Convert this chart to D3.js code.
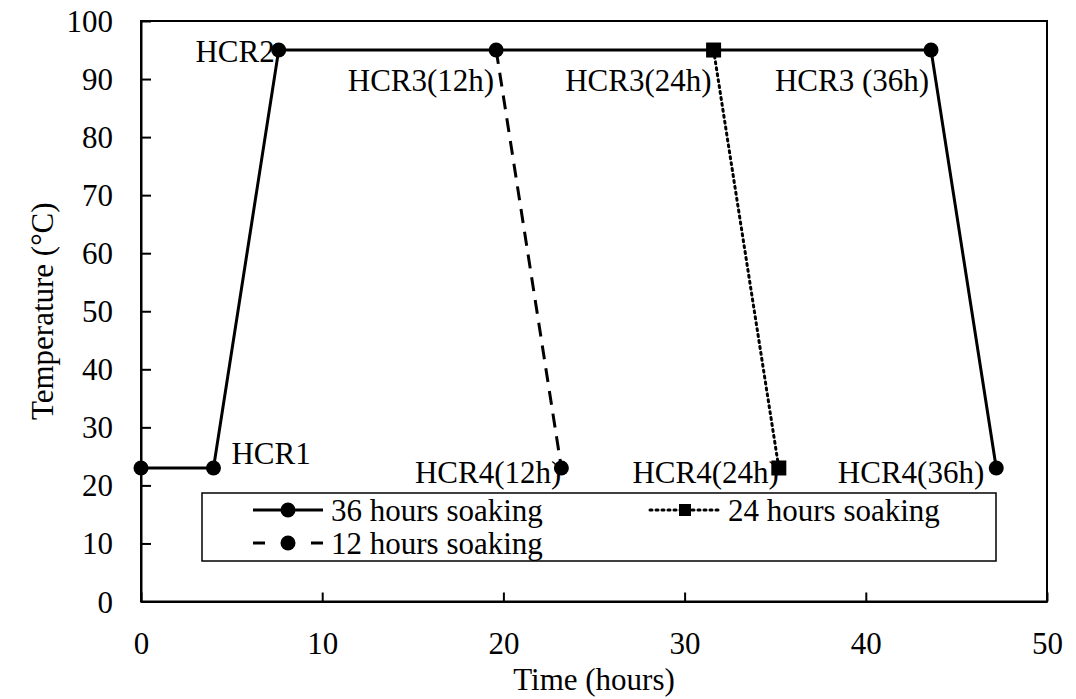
<!DOCTYPE html>
<html>
<head>
<meta charset="utf-8">
<script src="https://cdn.jsdelivr.net/npm/d3@7"></script>
<style>
body { margin:0; background:#fff; }
text { font-family: "Liberation Serif", "Times New Roman", serif; fill:#000; }
</style>
</head>
<body>
<svg id="chart" width="1076" height="699"></svg>
<script>
// data
var time36 = [0, 4, 7.6, 43.6, 47.2]
var temp36 = [23, 23, 95, 95, 23]
var time24 = [31.6, 35.2]
var temp24 = [95, 23]
var time12 = [19.6, 23.2]
var temp12 = [95, 23]

var xTicks = [0, 10, 20, 30, 40, 50]
var yTicks = [0, 10, 20, 30, 40, 50, 60, 70, 80, 90, 100]

var labelText = ['HCR1', 'HCR2', 'HCR3(12h)', 'HCR3(24h)', 'HCR3 (36h)', 'HCR4(12h)', 'HCR4(24h)', 'HCR4(36h)']
var labelX = [4, 7.6, 19.6, 31.6, 43.6, 23.2, 35.2, 47.2]
var labelY = [23, 95, 95, 95, 95, 23, 23, 23]

var svg = d3.select('#chart')
var m = {left:141, right:1047, top:21, bottom:601.5}
var fs = 31

var x = d3.scaleLinear().domain([0, 50]).range([m.left, m.right])
var y = d3.scaleLinear().domain([0, 100]).range([m.bottom, m.top])

// frame
svg.append('rect')
	.attr('x', m.left).attr('y', m.top)
	.attr('width', m.right - m.left).attr('height', m.bottom - m.top)
	.attr('fill', 'none').attr('stroke', '#000').attr('stroke-width', 2)

// axes, ticks inside
var xAxis = d3.axisBottom(x).tickValues(xTicks).tickSizeInner(-9).tickSizeOuter(0).tickPadding(30)
var gx = svg.append('g').attr('transform', 'translate(0,' + m.bottom + ')').call(xAxis)
var yAxis = d3.axisLeft(y).tickValues(yTicks).tickSizeInner(-10).tickSizeOuter(0).tickPadding(28)
var gy = svg.append('g').attr('transform', 'translate(' + m.left + ',0)').call(yAxis)
;[gx, gy].forEach(function(g){
	g.select('.domain').attr('stroke', '#000').attr('stroke-width', 2)
	g.selectAll('.tick line').attr('stroke', '#000').attr('stroke-width', 2)
	g.selectAll('.tick text').style('font-size', fs + 'px').style('font-family', '"Liberation Serif", "Times New Roman", serif').attr('fill', '#000')
})
gx.selectAll('.tick text').attr('dy', '0.71em')
gy.selectAll('.tick text').attr('dy', '0.34em')

svg.append('text').attr('x', (m.left + m.right) / 2).attr('y', 690)
	.attr('text-anchor', 'middle').style('font-size', fs + 'px').text('Time (hours)')
svg.append('text').attr('transform', 'translate(53,' + ((m.top + m.bottom) / 2) + ') rotate(-90)')
	.attr('text-anchor', 'middle').style('font-size', fs + 'px').text('Temperature (°C)')

var line = d3.line().x(function(d){ return x(d[0]) }).y(function(d){ return y(d[1]) })
var pts = function(t, v){ return t.map(function(d, i){ return [d, v[i]] }) }

var series = [
	{pts: pts(time12, temp12), dash: '14,9', legendDash: '12,46,12', cap: 'butt', shape: 'circle'},
	{pts: pts(time24, temp24), dash: '2,4', legendDash: '2,4', cap: 'round', shape: 'square'},
	{pts: pts(time36, temp36), dash: null, legendDash: null, cap: 'butt', shape: 'circle'}
]

// labels under markers
var lblDx = [18, -4, -2, -2, -2, 0, 0, -12]
var lblDy = [-4, 12, 41, 41, 41, 15, 15, 15]
var lblAnchor = ['start', 'end', 'end', 'end', 'end', 'end', 'end', 'end']
labelText.forEach(function(t, i){
	svg.append('text').attr('x', x(labelX[i]) + lblDx[i]).attr('y', y(labelY[i]) + lblDy[i])
		.attr('text-anchor', lblAnchor[i]).style('font-size', fs + 'px').text(t)
})

function marker(g, shape, cx, cy, s){
	if(shape == 'circle') {
		g.append('circle').attr('cx', cx).attr('cy', cy).attr('r', s).attr('fill', '#000')
	}else {
		g.append('rect').attr('x', cx - s).attr('y', cy - s).attr('width', 2 * s).attr('height', 2 * s).attr('fill', '#000')
	}
}

series.forEach(function(s){
	svg.append('path').attr('d', line(s.pts)).attr('fill', 'none').attr('stroke', '#000')
		.attr('stroke-width', 3).attr('stroke-dasharray', s.dash).attr('stroke-linecap', s.cap)
	s.pts.forEach(function(p){ marker(svg, s.shape, x(p[0]), y(p[1]), 7.5) })
})

// legend
var lg = svg.append('g')
lg.append('rect').attr('x', 202).attr('y', 493).attr('width', 794).attr('height', 68)
	.attr('fill', '#fff').attr('stroke', '#000').attr('stroke-width', 1.5)
var legendItems = [
	{name: '36 hours soaking', s: series[2], x0: 253, y0: 510},
	{name: '12 hours soaking', s: series[0], x0: 253, y0: 543},
	{name: '24 hours soaking', s: series[1], x0: 650, y0: 510}
]
legendItems.forEach(function(d){
	lg.append('line').attr('x1', d.x0).attr('x2', d.x0 + 70).attr('y1', d.y0).attr('y2', d.y0)
		.attr('stroke', '#000').attr('stroke-width', 3)
		.attr('stroke-dasharray', d.s.legendDash).attr('stroke-linecap', d.s.cap)
	marker(lg, d.s.shape, d.x0 + 35, d.y0, d.s.shape == 'circle' ? 7.5 : 6)
	lg.append('text').attr('x', d.x0 + 78).attr('y', d.y0 + 11).style('font-size', fs + 'px').text(d.name)
})
</script>
</body>
</html>
